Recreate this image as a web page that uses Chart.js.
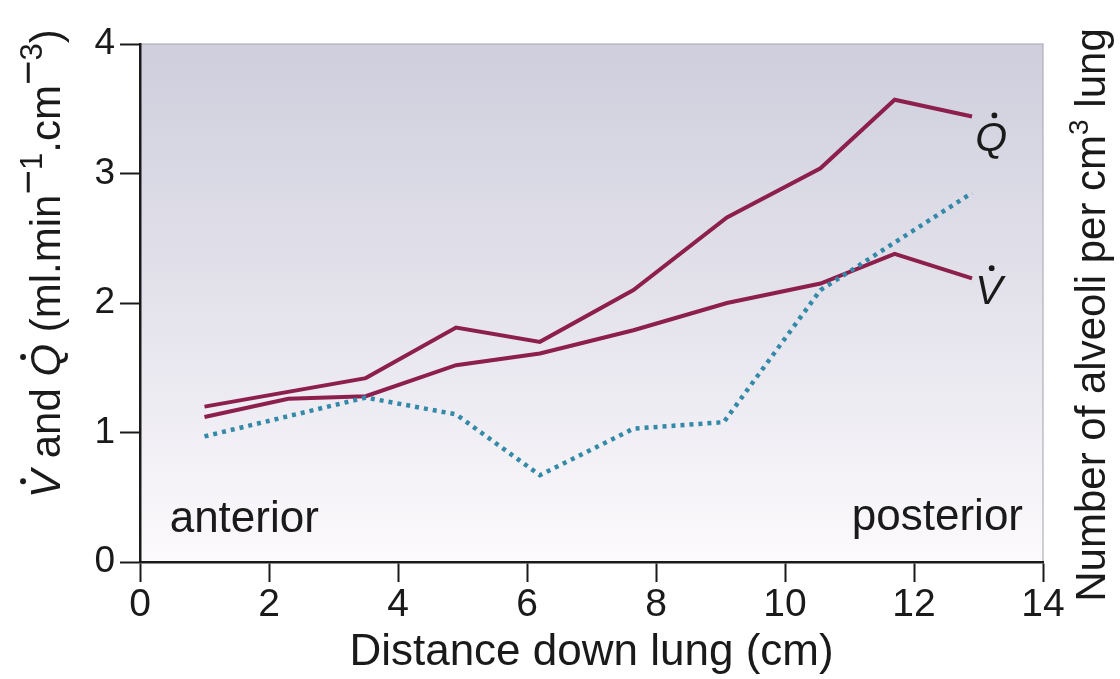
<!DOCTYPE html>
<html><head><meta charset="utf-8">
<script src="https://cdn.jsdelivr.net/npm/chart.js@4"></script>
<style>html,body{margin:0;padding:0;background:#fff;overflow:hidden}</style>
</head><body>
<canvas id="c" width="1120" height="679"></canvas>
<script>
// ---- data ----
const distQ = [1, 3.5, 4.9, 6.2, 7.65, 9.1, 10.55, 11.7, 12.9];
const perfusionQ = [1.20, 1.42, 1.81, 1.70, 2.10, 2.66, 3.04, 3.57, 3.44];
const distV = [1, 2.3, 3.5, 4.9, 6.2, 7.65, 9.1, 10.55, 11.7, 12.9];
const ventilationV = [1.12, 1.26, 1.28, 1.52, 1.61, 1.79, 2.00, 2.15, 2.38, 2.19];
const distAlv = [1, 3.5, 4.9, 6.2, 7.65, 9.05, 10.55, 12.9];
const alveoli = [0.97, 1.27, 1.14, 0.67, 1.03, 1.08, 2.10, 2.85];
const xTickValues = [0, 2, 4, 6, 8, 10, 12, 14];
const yTickValues = [0, 1, 2, 3, 4];

const FONT = "'Liberation Sans', Arial, Helvetica, sans-serif";
const MAROON = '#8d1f4d';
const BLUE = '#3489a8';
const INK = '#1a1a1a';

const pts = (xs, ys) => xs.map((x, i) => ({x, y: ys[i]}));

const decor = {
  id: 'decor',
  beforeDraw(chart) {
    const {ctx, chartArea: a} = chart;
    const g = ctx.createLinearGradient(0, a.top, 0, a.bottom);
    g.addColorStop(0, 'rgb(206,206,221)');
    g.addColorStop(0.5, 'rgb(228,227,236)');
    g.addColorStop(1, 'rgb(252,250,252)');
    ctx.save();
    ctx.fillStyle = g;
    ctx.fillRect(a.left, a.top, a.right - a.left, a.bottom - a.top);
    ctx.strokeStyle = 'rgba(175,175,185,0.8)';
    ctx.lineWidth = 1.5;
    ctx.beginPath();
    ctx.moveTo(a.left, a.top); ctx.lineTo(a.right, a.top); ctx.lineTo(a.right, a.bottom);
    ctx.stroke();
    ctx.restore();
  },
  afterDraw(chart) {
    const {ctx, scales: {x, y}} = chart;
    ctx.save();
    ctx.fillStyle = INK;
    ctx.textBaseline = 'alphabetic';
    // region labels
    ctx.font = `44px ${FONT}`;
    ctx.textAlign = 'left';
    ctx.fillText('anterior', x.getPixelForValue(0.46), y.getPixelForValue(0.235));
    ctx.textAlign = 'right';
    ctx.fillText('posterior', x.getPixelForValue(13.69), y.getPixelForValue(0.25));

    // letter with a dot above (V-dot / Q-dot)
    const dotLetterAt = (letter, px, py, size) => {
      ctx.font = `italic ${size}px ${FONT}`;
      ctx.textAlign = 'left';
      ctx.fillText(letter, px, py);
      const w = ctx.measureText(letter).width;
      ctx.beginPath();
      ctx.arc(px + w * 0.60, py - size * 0.88, size * 0.07, 0, Math.PI * 2);
      ctx.fill();
      return w;
    };
    dotLetterAt('Q', x.getPixelForValue(12.95), y.getPixelForValue(3.17), 41);
    dotLetterAt('V', x.getPixelForValue(12.95), y.getPixelForValue(1.99), 41);

    // left axis title (rotated)
    ctx.save();
    ctx.translate(60, 498);
    ctx.rotate(-Math.PI / 2);
    const F = 42;
    let cx = 0;
    const seg = (t, style, size, dy) => {
      ctx.font = `${style} ${size}px ${FONT}`;
      ctx.textAlign = 'left';
      ctx.fillText(t, cx, dy || 0);
      const w = ctx.measureText(t).width;
      cx += w;
      return w;
    };
    const dotSeg = (l) => {
      const w = dotLetterAt(l, cx, 0, F);
      cx += w;
    };
    dotSeg('V');
    seg(' and ', '', F);
    dotSeg('Q');
    seg(' (ml.min', '', F);
    seg('\u2212', '', F, -F * 0.42);
    seg('1', '', F * 0.74, -F * 0.42);
    seg('.cm', '', F);
    seg('\u2212', '', F, -F * 0.42);
    seg('3', '', F * 0.74, -F * 0.42);
    seg(')', '', F);
    ctx.restore();

    // right title (rotated, reads upward)
    ctx.save();
    ctx.translate(1093, 315);
    ctx.rotate(-Math.PI / 2);
    ctx.font = `42px ${FONT}`;
    const p1 = 'Number of alveoli per cm', p2 = '3', p3 = ' lung';
    const w1 = ctx.measureText(p1).width, w3 = ctx.measureText(p3).width;
    ctx.font = `28px ${FONT}`;
    const w2 = ctx.measureText(p2).width;
    let sx = -(w1 + w2 + w3) / 2;
    ctx.textBaseline = 'middle';
    ctx.textAlign = 'left';
    ctx.font = `42px ${FONT}`;
    ctx.fillText(p1, sx, 0);
    ctx.font = `28px ${FONT}`;
    ctx.fillText(p2, sx + w1, -13);
    ctx.font = `42px ${FONT}`;
    ctx.fillText(p3, sx + w1 + w2, 0);
    ctx.restore();
    ctx.restore();
  }
};

new Chart(document.getElementById('c'), {
  type: 'line',
  data: {
    datasets: [
      { label: 'Alveoli per cm³ lung', data: pts(distAlv, alveoli), yAxisID: 'y2',
        borderColor: BLUE, borderWidth: 4.5, borderDash: [4, 5], borderCapStyle: 'butt',
        pointRadius: 0, tension: 0, order: 0 },
      { label: 'Q̇', data: pts(distQ, perfusionQ), borderColor: MAROON, borderWidth: 4,
        pointRadius: 0, tension: 0, order: 1 },
      { label: 'V̇', data: pts(distV, ventilationV), borderColor: MAROON, borderWidth: 4,
        pointRadius: 0, tension: 0, order: 1 }
    ]
  },
  options: {
    responsive: false,
    animation: false,
    devicePixelRatio: 1,
    layout: { padding: { left: 0, right: 77, top: 44, bottom: 0 } },
    plugins: { legend: { display: false }, tooltip: { enabled: false } },
    scales: {
      x: {
        type: 'linear', min: 0, max: 14,
        afterBuildTicks: s => { s.ticks = xTickValues.map(v => ({value: v})); },
        afterFit: s => { s.height = 117; },
        grid: { drawOnChartArea: false, drawTicks: true, tickLength: 20, tickColor: INK, tickWidth: 2 },
        border: { display: true, color: INK, width: 2.5 },
        ticks: { color: INK, font: { family: FONT, size: 39 }, padding: 0, maxRotation: 0 },
        title: { display: true, text: 'Distance down lung (cm)', color: INK,
                 font: { family: FONT, size: 44 }, padding: { top: 0, bottom: 0 } }
      },
      y: {
        type: 'linear', min: 0, max: 4,
        afterBuildTicks: s => { s.ticks = yTickValues.map(v => ({value: v})); },
        afterFit: s => { s.width = 140; },
        grid: { drawOnChartArea: false, drawTicks: true, tickLength: 20, tickColor: INK, tickWidth: 2 },
        border: { display: true, color: INK, width: 2.5 },
        ticks: { color: INK, font: { family: FONT, size: 37 }, padding: 5 }
      },
      y2: { type: 'linear', min: 0, max: 4, display: false, position: 'right' }
    }
  },
  plugins: [decor]
});
</script>
</body></html>
